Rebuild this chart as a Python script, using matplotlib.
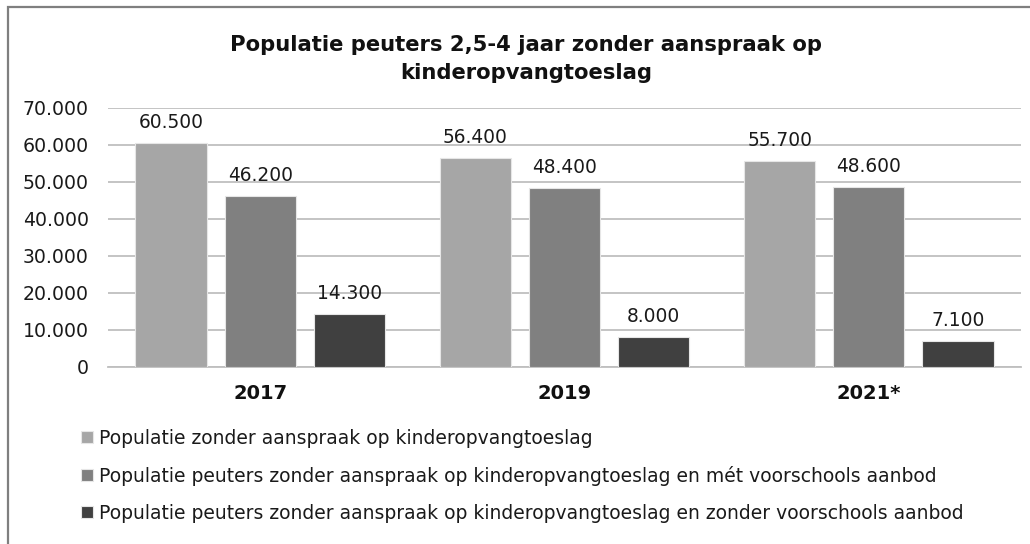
import numpy as np
import matplotlib.pyplot as plt
from matplotlib.patches import Rectangle

years = ['2017', '2019', '2021*']
zonder_aanspraak = [60500, 56400, 55700]
met_voorschools = [46200, 48400, 48600]
zonder_voorschools = [14300, 8000, 7100]
labels = ['Populatie zonder aanspraak op kinderopvangtoeslag',
          'Populatie peuters zonder aanspraak op kinderopvangtoeslag en mét voorschools aanbod',
          'Populatie peuters zonder aanspraak op kinderopvangtoeslag en zonder voorschools aanbod']
colors = ['#a6a6a6', '#808080', '#404040']

plt.rcParams['font.family'] = 'DejaVu Sans'

fig = plt.figure(figsize=(10.3, 5.44), dpi=100)
ax = fig.add_axes([0.1049, 0.3254, 0.8864, 0.4761])

index = np.arange(len(years))
step = 0.293
bar_width = 0.234
series = [zonder_aanspraak, met_voorschools, zonder_voorschools]
for j, vals in enumerate(series):
    rects = ax.bar(index + (j - 1) * step, vals, bar_width, color=colors[j],
                   edgecolor='#e6e6e6', linewidth=0.8, label=labels[j], zorder=3)
    ax.bar_label(rects, labels=[f'{v:,}'.replace(',', '.') for v in vals],
                 padding=8, fontsize=13.4, color='#1a1a1a')

ax.set_xlim(-0.5, 2.5)
ax.set_ylim(0, 70000)
yt = np.arange(0, 70001, 10000)
ax.set_yticks(yt)
ax.set_yticklabels(['0' if v == 0 else f'{v:,}'.replace(',', '.') for v in yt],
                   fontsize=13.6, color='#1a1a1a')
ax.tick_params(axis='y', length=0, pad=14)
ax.set_xticks(index)
ax.set_xticklabels(years, fontsize=14, fontweight='bold', color='#111111')
ax.tick_params(axis='x', length=0, pad=12)
ax.grid(axis='y', color='#bfbfbf', linewidth=1.3, zorder=0)
for s in ['top', 'right', 'left']:
    ax.spines[s].set_visible(False)
ax.spines['bottom'].set_color('#bfbfbf')
ax.spines['bottom'].set_linewidth(1.3)

fig.text(0.511, 0.892, 'Populatie peuters 2,5-4 jaar zonder aanspraak op\nkinderopvangtoeslag',
         ha='center', va='center', fontsize=15.2, fontweight='bold',
         linespacing=1.5, color='#111111')

handles, lbls = ax.get_legend_handles_labels()
fig.legend(handles, lbls, loc='upper left', bbox_to_anchor=(0.079, 0.212),
           bbox_transform=fig.transFigure, frameon=False, fontsize=13.5,
           handlelength=0.6, handleheight=0.6, handletextpad=0.35,
           labelspacing=0.97, borderaxespad=0, borderpad=0, labelcolor='#1a1a1a')

fig.patches.append(Rectangle((8 / 1030, -0.1), 1.2, 1.1 - 7 / 544,
                             transform=fig.transFigure, fill=False,
                             edgecolor='#7f7f7f', linewidth=1.6))

plt.savefig('out.png', dpi=100)
